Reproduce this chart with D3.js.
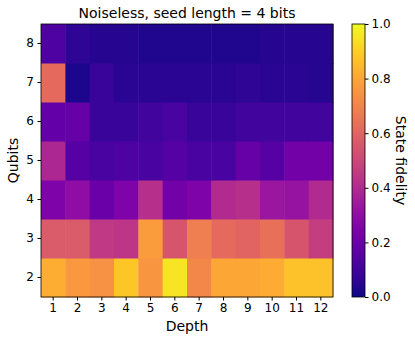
<!DOCTYPE html>
<html><head><meta charset="utf-8">
<script src="https://cdn.jsdelivr.net/npm/d3@7"></script>
<style>body{margin:0;background:#fff}svg{display:block;font-family:"DejaVu Sans",sans-serif}</style>
</head><body>
<svg id="c" width="415" height="342"></svg>
<script>
const depths = [1,2,3,4,5,6,7,8,9,10,11,12];
const qubits = [2,3,4,5,6,7,8];
const fid_q2 = [0.82,0.76,0.74,0.88,0.75,0.95,0.71,0.80,0.80,0.81,0.87,0.87];
const fid_q3 = [0.57,0.57,0.45,0.44,0.77,0.55,0.68,0.62,0.60,0.64,0.55,0.47];
const fid_q4 = [0.25,0.30,0.20,0.25,0.42,0.22,0.25,0.40,0.42,0.33,0.32,0.40];
const fid_q5 = [0.39,0.15,0.12,0.13,0.12,0.15,0.12,0.12,0.19,0.15,0.22,0.22];
const fid_q6 = [0.18,0.19,0.08,0.08,0.10,0.12,0.08,0.08,0.10,0.10,0.10,0.10];
const fid_q7 = [0.62,0.02,0.08,0.05,0.05,0.05,0.05,0.05,0.06,0.05,0.05,0.04];
const fid_q8 = [0.13,0.06,0.04,0.04,0.03,0.03,0.03,0.03,0.03,0.04,0.04,0.04];
const fidRows = [fid_q2,fid_q3,fid_q4,fid_q5,fid_q6,fid_q7,fid_q8];
const cbTicks = [0.0,0.2,0.4,0.6,0.8,1.0];

const svg = d3.select("#c");
const L=41,R=333,T=24,B=297;
const x = d3.scaleBand().domain(depths).range([L,R]).padding(0);
const y = d3.scaleBand().domain(qubits).range([B,T]).padding(0);
const color = d3.scaleSequential(d3.interpolatePlasma).domain([0,1]);

const cells=[];
qubits.forEach((q,i)=>depths.forEach((d,j)=>cells.push({q,d,v:fidRows[i][j]})));
svg.append("g").selectAll("rect").data(cells).join("rect")
  .attr("x",c=>x(c.d)).attr("y",c=>y(c.q))
  .attr("width",x.bandwidth()+0.5).attr("height",y.bandwidth()+0.5)
  .attr("fill",c=>color(c.v));
svg.append("rect").attr("x",L).attr("y",T).attr("width",R-L).attr("height",B-T)
  .attr("fill","none").attr("stroke","#000").attr("stroke-width",0.8);

const xa = svg.append("g").attr("transform",`translate(0,${B})`).call(d3.axisBottom(x).tickSizeOuter(0).tickSize(3.5).tickPadding(3));
const ya = svg.append("g").attr("transform",`translate(${L},0)`).call(d3.axisLeft(y).tickSizeOuter(0).tickSize(3.5).tickPadding(3.5));
[xa,ya].forEach(a=>{a.select(".domain").remove();a.selectAll("text").attr("font-size",12).attr("fill","#000").attr("font-family","DejaVu Sans");a.selectAll("line").attr("stroke","#000");});

svg.append("text").attr("x",(L+R)/2).attr("y",18).attr("text-anchor","middle").attr("font-size",14).text("Noiseless, seed length = 4 bits");
svg.append("text").attr("x",(L+R)/2).attr("y",331).attr("text-anchor","middle").attr("font-size",14).text("Depth");
svg.append("text").attr("transform",`translate(18,${(T+B)/2}) rotate(-90)`).attr("text-anchor","middle").attr("font-size",14).text("Qubits");

// colorbar
const cbL=352,cbW=13;
const cy = d3.scaleLinear().domain([0,1]).range([B,T]);
const defs=svg.append("defs");
const grad=defs.append("linearGradient").attr("id","g").attr("x1",0).attr("y1",1).attr("x2",0).attr("y2",0);
d3.range(0,1.0001,0.05).forEach(t=>grad.append("stop").attr("offset",t).attr("stop-color",color(t)));
svg.append("rect").attr("x",cbL).attr("y",T).attr("width",cbW).attr("height",B-T).attr("fill","url(#g)").attr("stroke","#000").attr("stroke-width",0.8);
const ca = svg.append("g").attr("transform",`translate(${cbL+cbW},0)`).call(d3.axisRight(cy).tickValues(cbTicks).tickFormat(d3.format(".1f")).tickSize(3.5).tickPadding(3));
ca.select(".domain").remove();
ca.selectAll("text").attr("font-size",12).attr("fill","#000").attr("font-family","DejaVu Sans");
ca.selectAll("line").attr("stroke","#000");
svg.append("text").attr("transform",`translate(396,${(T+B)/2}) rotate(90)`).attr("text-anchor","middle").attr("font-size",14).text("State fidelity");
</script>
</body></html>
